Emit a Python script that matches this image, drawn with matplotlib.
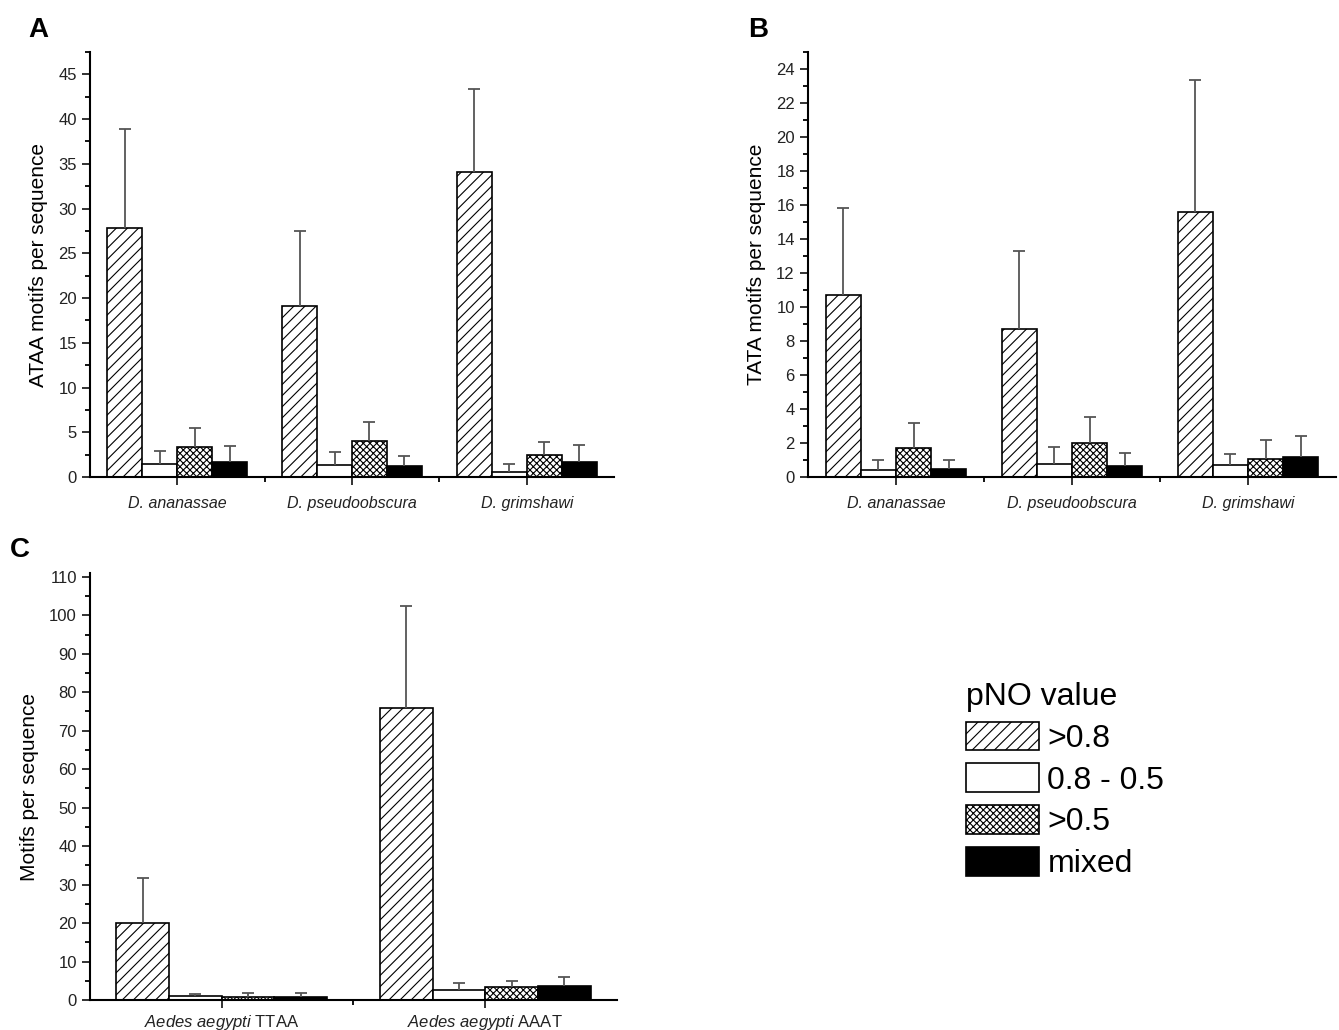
import numpy as np
import matplotlib
matplotlib.use("Agg")
import matplotlib.pyplot as plt
from matplotlib.patches import Patch
from matplotlib.ticker import MultipleLocator, FixedLocator

plt.rcParams['font.family'] = ['Liberation Sans', 'DejaVu Sans']
plt.rcParams['mathtext.fontset'] = 'custom'
plt.rcParams['mathtext.rm'] = 'Liberation Sans'
plt.rcParams['mathtext.it'] = 'Liberation Sans:italic'
plt.rcParams['hatch.linewidth'] = 0.8

# pNO value classes
series = ['>0.8', '0.8 - 0.5', '>0.5', 'mixed']

drosophila = ['D. ananassae', 'D. pseudoobscura', 'D. grimshawi']
aedes = [r'$\it{Aedes\ aegypti}$ TTAA', r'$\it{Aedes\ aegypti}$ AAAT']

# panel A: ATAA motifs per sequence (rows = pNO class, cols = species)
ataa_vals = [[27.8, 19.1, 34.1], [1.5, 1.3, 0.6], [3.3, 4.0, 2.5], [1.7, 1.2, 1.7]]
ataa_err = [[11.1, 8.4, 9.3], [1.4, 1.5, 0.9], [2.2, 2.1, 1.4], [1.8, 1.1, 1.9]]

# panel B: TATA motifs per sequence
tata_vals = [[10.7, 8.7, 15.6], [0.4, 0.75, 0.7], [1.7, 2.0, 1.05], [0.45, 0.65, 1.15]]
tata_err = [[5.15, 4.6, 7.75], [0.6, 1.0, 0.65], [1.5, 1.5, 1.1], [0.55, 0.75, 1.25]]

# panel C: Aedes aegypti motifs per sequence
aedes_vals = [[20.0, 76.0], [1.0, 2.5], [0.8, 3.4], [0.7, 3.6]]
aedes_err = [[11.8, 26.5], [0.6, 1.8], [1.0, 1.5], [1.1, 2.4]]

styles = [
    dict(facecolor='white', hatch='///'),
    dict(facecolor='white', hatch=None),
    dict(facecolor='white', hatch='xxxxx'),
    dict(facecolor='black', hatch=None),
]

width = 0.2


def grouped(ax, labels, vals, errs, ymax, major, minor, ylabel, italic, xsize, xpad):
    x = np.arange(1, len(labels) + 1)
    for i, (v, e) in enumerate(zip(vals, errs)):
        xs = x - 0.3 + i * width
        ax.bar(xs, v, width, edgecolor='black', linewidth=1.2, zorder=2, **styles[i])
        eb = ax.errorbar(xs, v, yerr=[np.zeros(len(v)), e], fmt='none',
                         ecolor='#555555', elinewidth=1.3, capsize=4, capthick=1.3, zorder=3)
        eb[1][0].set_visible(False)
    ax.set_xlim(0.5, len(labels) + 0.5)
    ax.set_ylim(0, ymax)
    ax.xaxis.set_major_locator(FixedLocator(x))
    ax.xaxis.set_minor_locator(FixedLocator(x[:-1] + 0.5))
    ax.set_xticklabels(labels, fontsize=xsize, fontstyle='italic' if italic else 'normal')
    ax.yaxis.set_major_locator(MultipleLocator(major))
    ax.yaxis.set_minor_locator(MultipleLocator(minor))
    ax.tick_params(axis='both', which='major', direction='out', length=6, width=1.3,
                   colors='#222222')
    ax.tick_params(axis='y', which='major', labelsize=12)
    ax.tick_params(axis='both', which='minor', direction='out', length=3.5, width=1.3)
    ax.tick_params(axis='x', which='major', pad=xpad)
    for s in ['top', 'right']:
        ax.spines[s].set_visible(False)
    for s in ['left', 'bottom']:
        ax.spines[s].set_linewidth(1.5)
    ax.set_ylabel(ylabel, fontsize=15, labelpad=7)


fig = plt.figure(figsize=(13.39, 10.30), dpi=100)

axA = fig.add_axes([0.0672, 0.5369, 0.3914, 0.4126])
grouped(axA, drosophila, ataa_vals, ataa_err, 47.5, 5, 2.5, 'ATAA motifs per sequence',
        True, 11.5, 8)

axB = fig.add_axes([0.6034, 0.5369, 0.3944, 0.4126])
grouped(axB, drosophila, tata_vals, tata_err, 25, 2, 1, 'TATA motifs per sequence',
        True, 11.5, 8)

axC = fig.add_axes([0.0672, 0.0291, 0.3936, 0.4146])
grouped(axC, aedes, aedes_vals, aedes_err, 111, 10, 5, 'Motifs per sequence',
        False, 12, 3)

fig.text(28 / 1339, 1 - 30 / 1030, 'A', fontsize=20, fontweight='bold', va='center')
fig.text(748 / 1339, 1 - 30 / 1030, 'B', fontsize=20, fontweight='bold', va='center')
fig.text(10 / 1339, 1 - 550 / 1030, 'C', fontsize=20, fontweight='bold', va='center')

handles = [Patch(edgecolor='black', linewidth=1.2, **st) for st in styles]
leg = fig.legend(handles, series, loc='upper left',
                 bbox_to_anchor=(966 / 1339, 1 - 682 / 1030),
                 frameon=False, fontsize=23, title='pNO value', title_fontsize=23,
                 alignment='left', handlelength=2.3, handleheight=1.0,
                 handletextpad=0.25, labelspacing=0.3, borderpad=0, borderaxespad=0)

fig.savefig('out.png', dpi=100)
